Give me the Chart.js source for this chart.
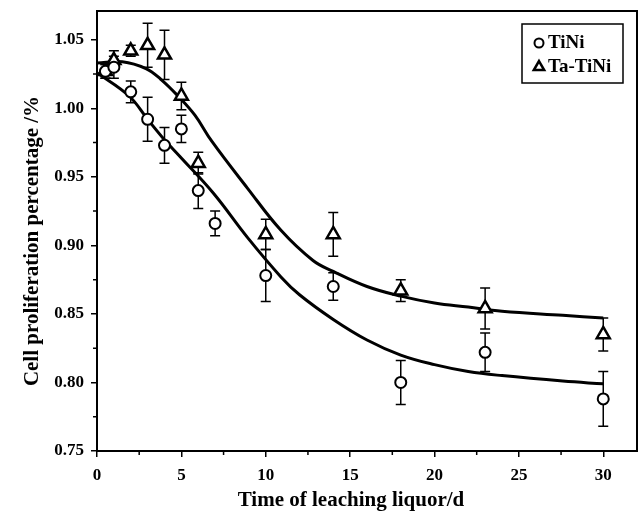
<!DOCTYPE html>
<html>
<head>
<meta charset="utf-8">
<script src="https://cdn.jsdelivr.net/npm/chart.js@4.4.1/dist/chart.umd.min.js"></script>
<style>
  html, body { margin: 0; padding: 0; background: #fff; overflow: hidden; }
  canvas { display: block; }
</style>
</head>
<body>
<canvas id="myChart" width="639" height="513"></canvas>
<script>
// measured points
const tiniX = [0.5, 1, 2, 3, 4, 5, 6, 7, 10, 14, 18, 23, 30];
const tiniY = [1.027, 1.030, 1.012, 0.992, 0.973, 0.985, 0.940, 0.916, 0.878, 0.870, 0.800, 0.822, 0.788];
const tiniErr = [0.005, 0.008, 0.008, 0.016, 0.013, 0.010, 0.013, 0.009, 0.019, 0.010, 0.016, 0.014, 0.020];

const taX = [0.5, 1, 2, 3, 4, 5, 6, 10, 14, 18, 23, 30];
const taY = [1.027, 1.035, 1.042, 1.046, 1.039, 1.009, 0.960, 0.908, 0.908, 0.867, 0.854, 0.835];
const taErr = [0.005, 0.007, 0.004, 0.016, 0.018, 0.010, 0.008, 0.011, 0.016, 0.008, 0.015, 0.012];

// fitted curves
const tiniFitX = [0, 1.9, 3, 4, 4.9, 6.9, 8.9, 10.9, 12, 14, 16, 18, 20, 22, 24, 27.6, 30];
const tiniFitY = [1.026, 1.009, 0.992, 0.977, 0.965, 0.938, 0.906, 0.877, 0.864, 0.846, 0.831, 0.820, 0.813, 0.808, 0.805, 0.801, 0.799];
const taFitX = [0, 1.5, 2.9, 3.8, 4.8, 5.8, 6.8, 8.9, 10.9, 12.8, 14, 16, 18, 20, 22, 24, 27.6, 30];
const taFitY = [1.033, 1.034, 1.029, 1.021, 1.009, 0.995, 0.976, 0.942, 0.911, 0.889, 0.881, 0.870, 0.863, 0.858, 0.855, 0.852, 0.849, 0.847];

const xTicks = [0, 5, 10, 15, 20, 25, 30];
const yTicks = [0.75, 0.80, 0.85, 0.90, 0.95, 1.00, 1.05];

const serif = '"Liberation Serif", "Times New Roman", serif';

const pts = (xs, ys) => xs.map((x, i) => ({ x: x, y: ys[i] }));

// error bars, minor ticks, frame, axis titles, legend
const extras = {
    id: 'extras',
    beforeDatasetsDraw(chart) {
        const ctx = chart.ctx;
        const xs = chart.scales.x, ys = chart.scales.y;
        ctx.save();
        ctx.strokeStyle = '#000';
        ctx.lineWidth = 1.5;
        const bars = [[tiniX, tiniY, tiniErr], [taX, taY, taErr]];
        bars.forEach(([bx, by, be]) => {
            bx.forEach((x, i) => {
                const px = xs.getPixelForValue(x);
                const top = ys.getPixelForValue(by[i] + be[i]);
                const bot = ys.getPixelForValue(by[i] - be[i]);
                ctx.beginPath();
                ctx.moveTo(px, top); ctx.lineTo(px, bot);
                ctx.moveTo(px - 5, top); ctx.lineTo(px + 5, top);
                ctx.moveTo(px - 5, bot); ctx.lineTo(px + 5, bot);
                ctx.stroke();
            });
        });
        ctx.restore();
    },
    afterDraw(chart) {
        const ctx = chart.ctx;
        const a = chart.chartArea;
        const xs = chart.scales.x, ys = chart.scales.y;
        ctx.save();
        ctx.strokeStyle = '#000';
        ctx.lineWidth = 2;
        ctx.strokeRect(a.left, a.top, a.right - a.left, a.bottom - a.top);

        // minor ticks
        ctx.lineWidth = 1.5;
        ctx.beginPath();
        for (let i = 0; i < xTicks.length - 1; i++) {
            const px = xs.getPixelForValue((xTicks[i] + xTicks[i + 1]) / 2);
            ctx.moveTo(px, a.bottom); ctx.lineTo(px, a.bottom + 4);
        }
        for (let i = 0; i < yTicks.length - 1; i++) {
            const py = ys.getPixelForValue((yTicks[i] + yTicks[i + 1]) / 2);
            ctx.moveTo(a.left, py); ctx.lineTo(a.left - 4, py);
        }
        ctx.stroke();

        // axis titles
        ctx.fillStyle = '#000';
        ctx.font = 'bold 21px ' + serif;
        ctx.textAlign = 'center';
        ctx.textBaseline = 'alphabetic';
        ctx.fillText('Time of leaching liquor/d', 351, 506);
        ctx.save();
        ctx.translate(38, 241);
        ctx.rotate(-Math.PI / 2);
        ctx.fillText('Cell proliferation percentage /%', 0, 0);
        ctx.restore();

        // legend
        ctx.lineWidth = 1.5;
        ctx.strokeRect(522, 24, 101, 59);
        ctx.lineWidth = 2;
        ctx.fillStyle = '#fff';
        Chart.helpers.drawPoint(ctx, { pointStyle: 'circle', radius: 4.5, borderWidth: 2 }, 539, 43);
        ctx.lineWidth = 2.5;
        Chart.helpers.drawPoint(ctx, { pointStyle: 'triangle', radius: 6, borderWidth: 2.5 }, 539, 67);
        ctx.fillStyle = '#000';
        ctx.font = 'bold 19px ' + serif;
        ctx.textAlign = 'left';
        ctx.textBaseline = 'middle';
        ctx.fillText('TiNi', 548, 43);
        ctx.fillText('Ta-TiNi', 548, 67);
        ctx.restore();
    }
};

document.addEventListener('DOMContentLoaded', () => {
    const ctx = document.getElementById('myChart');
    new Chart(ctx, {
        type: 'scatter',
        data: {
            datasets: [
                {
                    label: 'TiNi',
                    data: pts(tiniX, tiniY),
                    pointStyle: 'circle',
                    pointRadius: 5.5,
                    pointBorderWidth: 2,
                    borderColor: '#000',
                    backgroundColor: '#fff',
                    order: 0
                },
                {
                    label: 'Ta-TiNi',
                    data: pts(taX, taY),
                    pointStyle: 'triangle',
                    pointRadius: 7.5,
                    pointBorderWidth: 2.5,
                    borderColor: '#000',
                    backgroundColor: '#fff',
                    order: 0
                },
                {
                    label: 'TiNi fit',
                    data: pts(tiniFitX, tiniFitY),
                    showLine: true,
                    pointRadius: 0,
                    borderColor: '#000',
                    borderWidth: 3,
                    tension: 0.4,
                    order: 1
                },
                {
                    label: 'Ta-TiNi fit',
                    data: pts(taFitX, taFitY),
                    showLine: true,
                    pointRadius: 0,
                    borderColor: '#000',
                    borderWidth: 3,
                    tension: 0.4,
                    order: 1
                }
            ]
        },
        options: {
            responsive: false,
            animation: false,
            layout: { autoPadding: false, padding: { top: 11, right: 2, left: 0, bottom: 0 } },
            plugins: {
                legend: { display: false },
                tooltip: { enabled: false }
            },
            scales: {
                x: {
                    type: 'linear',
                    min: 0,
                    max: 32,
                    afterFit: s => { s.height = 62; s.paddingLeft = 0; s.paddingRight = 0; },
                    afterBuildTicks: s => { s.ticks = xTicks.map(v => ({ value: v })); },
                    border: { color: '#000', width: 2 },
                    grid: { drawOnChartArea: false, color: '#000', lineWidth: 1.5, tickLength: 6 },
                    ticks: {
                        color: '#000',
                        padding: 8,
                        font: { family: serif, size: 17, weight: 'bold' },
                        callback: v => String(v)
                    }
                },
                y: {
                    min: 0.75,
                    max: 1.071,
                    afterFit: s => { s.width = 97; s.paddingTop = 0; s.paddingBottom = 0; },
                    afterBuildTicks: s => { s.ticks = yTicks.map(v => ({ value: v })); },
                    border: { color: '#000', width: 2 },
                    grid: { drawOnChartArea: false, color: '#000', lineWidth: 1.5, tickLength: 6 },
                    ticks: {
                        color: '#000',
                        padding: 7,
                        font: { family: serif, size: 17, weight: 'bold' },
                        callback: v => v.toFixed(2)
                    }
                }
            }
        },
        plugins: [extras]
    });
});
</script>
</body>
</html>
